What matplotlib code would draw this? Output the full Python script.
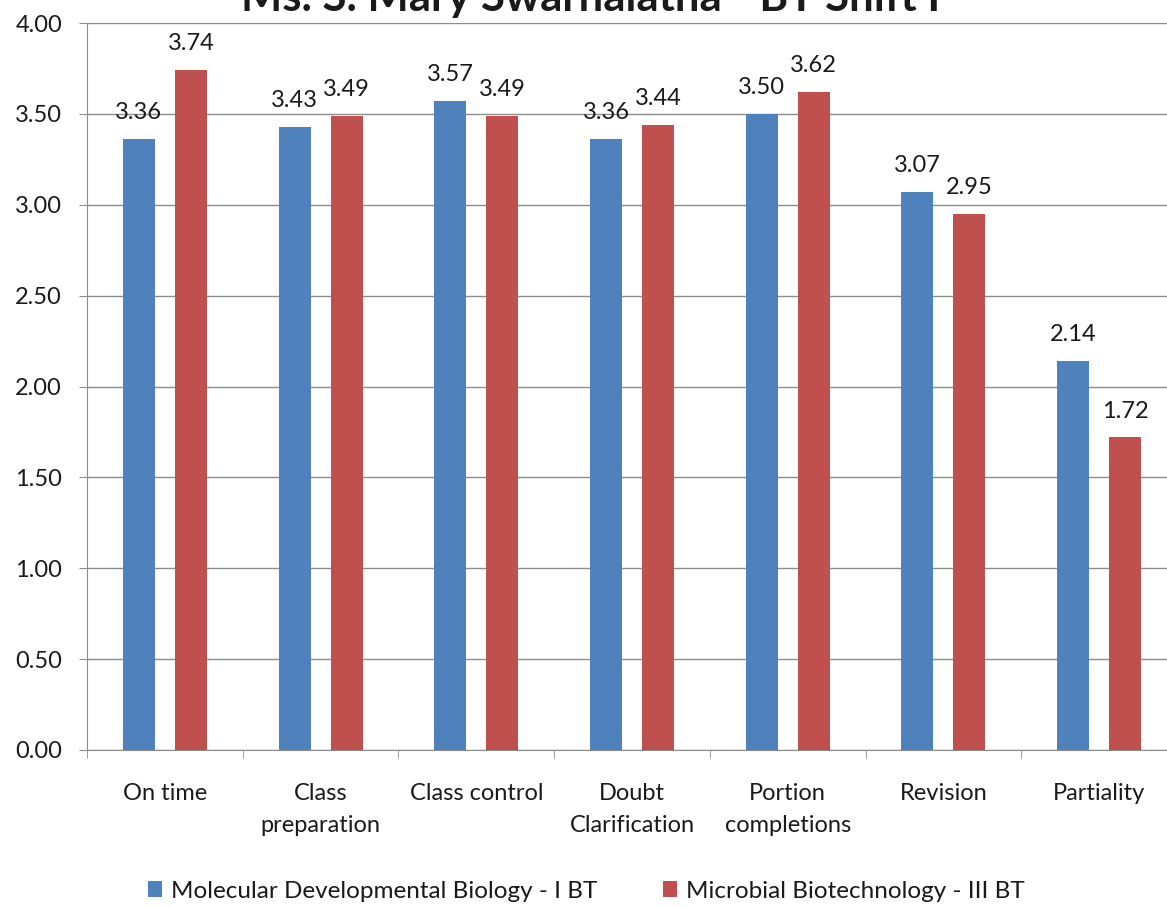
import matplotlib
matplotlib.use("Agg")
import matplotlib.pyplot as plt
import numpy as np

categories = ["On time", "Class\npreparation", "Class control", "Doubt\nClarification",
              "Portion\ncompletions", "Revision", "Partiality"]
series_names = ["Molecular Developmental Biology - I BT", "Microbial Biotechnology - III BT"]
mdb_values = [3.36, 3.43, 3.57, 3.36, 3.50, 3.07, 2.14]
mbt_values = [3.74, 3.49, 3.49, 3.44, 3.62, 2.95, 1.72]
title = "Ms. S. Mary Swarnalatha - BT Shift I"

plt.rcParams['font.family'] = ['Lato', 'DejaVu Sans']
FS = 17
TXT = "#1a1a1a"

fig = plt.figure(figsize=(11.67, 9.07), dpi=100)
ax = fig.add_axes([87/1167, 1-750/907, (1177-87)/1167, (750-23)/907])

x = np.arange(len(categories))
bw = 0.205
off = 0.167
blue = "#4F81BD"
red = "#C0504D"
b1 = ax.bar(x - off, mdb_values, bw, color=blue, label=series_names[0], zorder=3)
b2 = ax.bar(x + off, mbt_values, bw, color=red, label=series_names[1], zorder=3)

for bars, vals in ((b1, mdb_values), (b2, mbt_values)):
    for r, v in zip(bars, vals):
        ax.annotate(f"{v:.2f}", (r.get_x() + r.get_width()/2, v), xytext=(0, 19),
                    textcoords="offset points", ha="center", va="center",
                    fontsize=FS, color=TXT, zorder=4)

ax.set_xlim(-0.5, len(categories) - 0.5)
ax.set_ylim(0, 4.0)
yt = np.arange(0, 4.01, 0.5)
ax.set_yticks(yt)
ax.set_yticklabels([f"{v:.2f}" for v in yt], fontsize=FS, color=TXT)
ax.grid(axis="y", color="#8c8c8c", linewidth=1.0, zorder=0)
ax.set_axisbelow(True)

ax.set_xticks(x)
ax.set_xticklabels(categories, fontsize=FS, color=TXT, linespacing=1.6)
ax.tick_params(axis="x", length=0, pad=24)
ax.set_xticks(np.arange(-0.5, len(categories), 1.0), minor=True)
ax.tick_params(axis="x", which="minor", length=6, color="#8c8c8c")
ax.tick_params(axis="y", length=6, color="#8c8c8c", pad=12, direction="out")

for s in ["top", "right"]:
    ax.spines[s].set_visible(False)
ax.spines["left"].set_color("#8c8c8c")
ax.spines["bottom"].set_color("#8c8c8c")

fig.text(591/1167, 1-11/907, title, ha="center", va="baseline", fontsize=31.5,
         fontweight="bold", color=TXT)

fig.legend(handles=[b1, b2], loc="center", bbox_to_anchor=(586/1167, 1-891/907), ncol=2,
           frameon=False, fontsize=17.5, handlelength=0.6, handleheight=0.6,
           handletextpad=0.35, columnspacing=2.7, labelcolor=TXT)

fig.savefig("out.png", dpi=100)
